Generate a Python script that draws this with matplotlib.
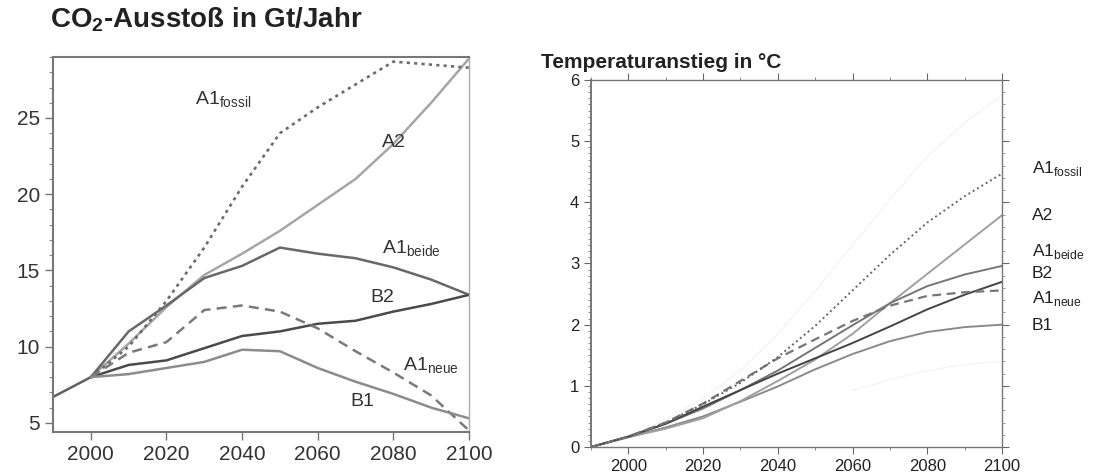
import numpy as np
import matplotlib
matplotlib.use('Agg')
import matplotlib.pyplot as plt
from matplotlib.ticker import MultipleLocator

plt.rcParams['font.family'] = ['Liberation Sans', 'DejaVu Sans']
plt.rcParams['mathtext.fontset'] = 'custom'
plt.rcParams['mathtext.rm'] = 'Liberation Sans'
plt.rcParams['mathtext.bf'] = 'Liberation Sans:bold'

# --- CO2 emissions (Gt/Jahr) ---
hist_years = [1990, 2000]
hist_co2 = [6.7, 8.0]

years = [2000, 2010, 2020, 2030, 2040, 2050, 2060, 2070, 2080, 2090, 2100]
co2_a1fossil = [8.0, 10.0, 13.0, 16.5, 20.5, 24.0, 25.7, 27.2, 28.7, 28.5, 28.3]
co2_a2 = [8.0, 10.2, 12.6, 14.7, 16.1, 17.6, 19.3, 21.0, 23.3, 26.0, 28.9]
co2_a1beide = [8.0, 11.0, 12.7, 14.5, 15.3, 16.5, 16.1, 15.8, 15.2, 14.4, 13.4]
co2_b2 = [8.0, 8.8, 9.1, 9.9, 10.7, 11.0, 11.5, 11.7, 12.3, 12.8, 13.4]
co2_a1neue = [8.0, 9.6, 10.3, 12.4, 12.7, 12.3, 11.2, 9.7, 8.3, 6.8, 4.5]
co2_b1 = [8.0, 8.2, 8.6, 9.0, 9.8, 9.7, 8.6, 7.7, 6.9, 6.0, 5.3]

# --- Temperature rise (°C) ---
t_years = [1990, 2000, 2010, 2020, 2030, 2040, 2050, 2060, 2070, 2080, 2090, 2100]
t_a1fossil = [0, 0.17, 0.40, 0.70, 1.05, 1.47, 1.98, 2.56, 3.14, 3.67, 4.10, 4.47]
t_a2 = [0, 0.16, 0.30, 0.47, 0.75, 1.08, 1.43, 1.85, 2.35, 2.83, 3.31, 3.79]
t_a1beide = [0, 0.17, 0.38, 0.63, 0.93, 1.25, 1.62, 1.99, 2.35, 2.63, 2.82, 2.96]
t_b2 = [0, 0.17, 0.38, 0.66, 0.93, 1.20, 1.45, 1.70, 1.97, 2.25, 2.49, 2.70]
t_a1neue = [0, 0.17, 0.40, 0.71, 1.08, 1.45, 1.76, 2.06, 2.31, 2.47, 2.53, 2.56]
t_b1 = [0, 0.16, 0.32, 0.50, 0.74, 0.99, 1.27, 1.52, 1.73, 1.88, 1.96, 2.00]
t_upper = [0, 0.17, 0.45, 0.80, 1.25, 1.85, 2.55, 3.30, 4.05, 4.75, 5.30, 5.75]
t_lower_years = [2060, 2070, 2080, 2090, 2100]
t_lower = [0.92, 1.10, 1.25, 1.35, 1.40]

fig = plt.figure(figsize=(11.14, 4.72), dpi=100)

# ---------- left chart ----------
ax1 = fig.add_axes([0.0476, 0.0847, 0.3734, 0.7945])
ax1.plot(hist_years, hist_co2, color='#606060', lw=1.8)
ax1.plot(years, co2_a2, color='#a6a6a6', lw=1.8)
ax1.plot(years, co2_a1fossil, color='#6c6c6c', lw=1.9, ls=(0, (1.2, 1.6)))
ax1.plot(years, co2_a1beide, color='#686868', lw=1.8)
ax1.plot(years, co2_b2, color='#4a4a4a', lw=1.8)
ax1.plot(years, co2_a1neue, color='#7a7a7a', lw=1.8, ls=(0, (4, 2.5)))
ax1.plot(years, co2_b1, color='#8c8c8c', lw=1.8)

ax1.set_xlim(1990, 2100)
ax1.set_ylim(4.4, 29)
ax1.set_xticks(range(2000, 2101, 20))
ax1.set_yticks([5, 10, 15, 20, 25])
ax1.yaxis.set_minor_locator(MultipleLocator(1))
ax1.tick_params(axis='both', which='major', direction='out', length=6,
                color='#777777', labelsize=15, labelcolor='#333333', width=1)
ax1.tick_params(axis='y', which='minor', direction='out', length=3,
                color='#888888', width=0.8)
for side in ['left', 'bottom', 'top']:
    ax1.spines[side].set_color('#777777')
    ax1.spines[side].set_linewidth(1.5)
ax1.spines['right'].set_color('#aaaaaa')
ax1.spines['right'].set_linewidth(1.0)

lab_kw = dict(fontsize=14, color='#333333', va='center', ha='left')
ax1.text(2027.5, 26.2, r'A1$_{\mathrm{fossil}}$', **lab_kw)
ax1.text(2077, 23.4, 'A2', **lab_kw)
ax1.text(2077, 16.4, r'A1$_{\mathrm{beide}}$', **lab_kw)
ax1.text(2074, 13.2, 'B2', **lab_kw)
ax1.text(2082.5, 8.75, r'A1$_{\mathrm{neue}}$', **lab_kw)
ax1.text(2068.5, 6.4, 'B1', **lab_kw)

fig.text(0.045, 1 - 20 / 472, r'CO$_\mathbf{2}$-Ausstoß in Gt/Jahr',
         fontsize=20, fontweight='bold', color='#222222', va='center', ha='left')

# ---------- right chart ----------
ax2 = fig.add_axes([0.5305, 0.053, 0.369, 0.7775])
ax2.plot(t_years, t_upper, color='#f4f4f4', lw=1.0)
ax2.plot(t_lower_years, t_lower, color='#f4f4f4', lw=1.0)
ax2.plot(t_years, t_b1, color='#8a8a8a', lw=1.4)
ax2.plot(t_years, t_a2, color='#a0a0a0', lw=1.4)
ax2.plot(t_years, t_a1beide, color='#767676', lw=1.4)
ax2.plot(t_years, t_b2, color='#444444', lw=1.4)
ax2.plot(t_years, t_a1neue, color='#777777', lw=1.6, ls=(0, (4, 2.5)))
ax2.plot(t_years, t_a1fossil, color='#666666', lw=1.4, ls=(0, (1, 1.6)))

ax2.set_xlim(1990, 2100)
ax2.set_ylim(0, 6)
ax2.set_xticks(range(2000, 2101, 20))
ax2.xaxis.set_minor_locator(MultipleLocator(10))
ax2.set_yticks(range(0, 7))
ax2.yaxis.set_minor_locator(MultipleLocator(0.1))
ax2.tick_params(axis='both', which='major', direction='out', length=5,
                color='#666666', labelsize=12, labelcolor='#222222')
ax2.tick_params(axis='both', which='minor', direction='out', length=2.5,
                color='#777777')
ax2.tick_params(axis='x', which='both', top=True)
for side in ax2.spines:
    ax2.spines[side].set_color('#777777')
    ax2.spines[side].set_linewidth(1.0)
ax2.spines['left'].set_linewidth(1.4)

ax2r = ax2.twinx()
ax2r.set_ylim(0, 6)
ax2r.set_yticks(range(0, 7))
ax2r.yaxis.set_minor_locator(MultipleLocator(0.2))
ax2r.tick_params(axis='y', which='major', direction='out', length=5,
                 color='#666666', labelright=False)
ax2r.tick_params(axis='y', which='minor', direction='out', length=2.5,
                 color='#888888')
for side in ax2r.spines:
    ax2r.spines[side].set_visible(False)

rlab = dict(fontsize=12.5, color='#222222', va='center', ha='left', clip_on=False)
ax2.text(2108, 4.56, r'A1$_{\mathrm{fossil}}$', **rlab)
ax2.text(2108, 3.79, 'A2', **rlab)
ax2.text(2108, 3.19, r'A1$_{\mathrm{beide}}$', **rlab)
ax2.text(2108, 2.84, 'B2', **rlab)
ax2.text(2108, 2.43, r'A1$_{\mathrm{neue}}$', **rlab)
ax2.text(2108, 1.99, 'B1', **rlab)

fig.text(541 / 1114, 1 - 63 / 472, 'Temperaturanstieg in °C',
         fontsize=15, fontweight='bold', color='#222222', va='center', ha='left')

fig.savefig('out.png', dpi=100, facecolor='white')
